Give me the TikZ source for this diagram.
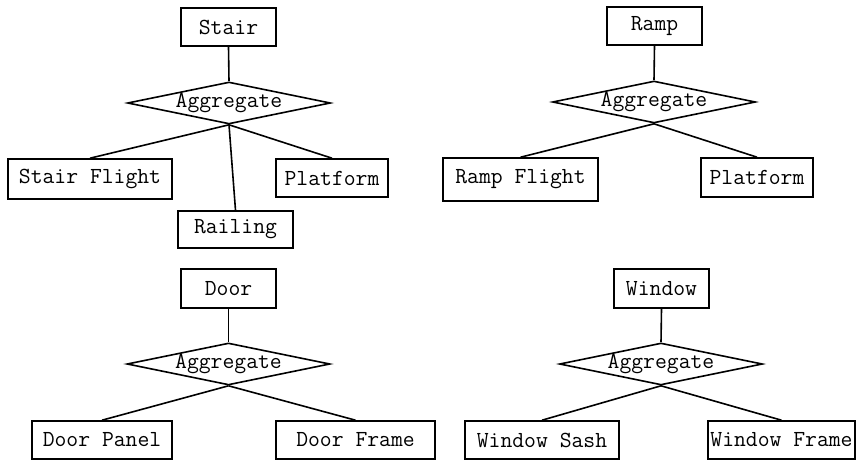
\documentclass[tikz,border=0pt]{standalone}
\usetikzlibrary{shapes.geometric}
\begin{document}
\begin{tikzpicture}[x=1pt,y=-1pt,
  every node/.style={font=\fontsize{23}{26}\selectfont\ttfamily},
  box/.style={draw,line width=1.6pt,inner sep=0pt},
  agg/.style={draw,diamond,aspect=4.83,inner sep=0pt,line width=1.6pt,minimum width=203pt,minimum height=42pt},
  link/.style={line width=1.6pt}]
\useasboundingbox (0,0) rectangle (856,460);
% Stair
\node[box,minimum width=95pt,minimum height=38pt] (stair) at (228.5,27) {Stair};
\node[agg] (a1) at (229,103) {Aggregate};
\node[box,minimum width=164pt,minimum height=40pt] (sf) at (90,179) {Stair Flight};
\node[box,minimum width=112pt,minimum height=38pt] (p1) at (332,178) {Platform};
\node[box,minimum width=115pt,minimum height=37pt] (rail) at (235.5,229.5) {Railing};
\draw[link] (stair.south) -- (a1.north);
\draw[link] (a1.south) -- (sf.north);
\draw[link] (a1.south) -- (p1.north);
\draw[link] (a1.south) -- (rail.north);
% Ramp
\node[box,minimum width=95pt,minimum height=38pt] (ramp) at (654.5,26) {Ramp};
\node[agg] (a2) at (654,102) {Aggregate};
\node[box,minimum width=155pt,minimum height=43pt] (rf) at (520.5,179.5) {Ramp Flight};
\node[box,minimum width=112pt,minimum height=39pt] (p2) at (757,177.5) {Platform};
\draw[link] (ramp.south) -- (a2.north);
\draw[link] (a2.south) -- (rf.north);
\draw[link] (a2.south) -- (p2.north);
% Door
\node[box,minimum width=95pt,minimum height=39pt] (door) at (228.5,288.5) {Door};
\node[agg] (a3) at (228.5,364) {Aggregate};
\node[box,minimum width=140pt,minimum height=38pt] (dp) at (102,440) {Door Panel};
\node[box,minimum width=159pt,minimum height=38pt] (df) at (355.5,440) {Door Frame};
\draw[link] (door.south) -- (a3.north);
\draw[link] (a3.south) -- (dp.north);
\draw[link] (a3.south) -- (df.north);
% Window
\node[box,minimum width=95pt,minimum height=39pt] (win) at (661.5,288.5) {Window};
\node[agg] (a4) at (661,364) {Aggregate};
\node[box,minimum width=154pt,minimum height=38pt] (ws) at (542,440) {Window Sash};
\node[box,minimum width=147pt,minimum height=38pt] (wf) at (781.5,440) {Window Frame};
\draw[link] (win.south) -- (a4.north);
\draw[link] (a4.south) -- (ws.north);
\draw[link] (a4.south) -- (wf.north);
\end{tikzpicture}
\end{document}
